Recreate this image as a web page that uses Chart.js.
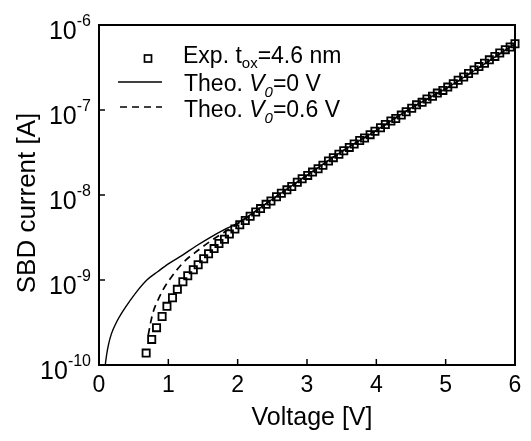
<!DOCTYPE html>
<html>
<head>
<meta charset="utf-8">
<script src="https://cdn.jsdelivr.net/npm/chart.js@4"></script>
<style>
  html, body { margin: 0; padding: 0; background: #fff; }
  canvas { display: block; }
</style>
</head>
<body>
<canvas id="chart" width="531" height="441"></canvas>
<script>
// measured SBD current, t_ox = 4.6 nm
const expVoltage = [
  0.68, 0.76, 0.83, 0.91, 0.98, 1.06, 1.13, 1.21, 1.28, 1.36, 1.43, 1.51,
  1.58, 1.66, 1.73, 1.81, 1.88, 1.96, 2.03, 2.11, 2.18, 2.26, 2.33, 2.41,
  2.48, 2.56, 2.63, 2.71, 2.78, 2.86, 2.93, 3.01, 3.08, 3.16, 3.23, 3.31,
  3.38, 3.46, 3.53, 3.61, 3.68, 3.76, 3.83, 3.91, 3.98, 4.06, 4.13, 4.21,
  4.28, 4.36, 4.43, 4.51, 4.58, 4.66, 4.73, 4.81, 4.88, 4.96, 5.03, 5.11,
  5.18, 5.26, 5.33, 5.41, 5.48, 5.56, 5.63, 5.71, 5.78, 5.86, 5.93, 6.00
];
const expCurrent = [
  1.38e-10, 2.0e-10, 2.75e-10, 3.72e-10, 4.9e-10, 6.17e-10, 7.76e-10, 9.55e-10, 1.12e-9, 1.32e-9, 1.51e-9, 1.78e-9,
  2.04e-9, 2.34e-9, 2.69e-9, 3.02e-9, 3.47e-9, 3.98e-9, 4.47e-9, 5.01e-9, 5.62e-9, 6.31e-9, 6.92e-9, 7.76e-9,
  8.51e-9, 9.55e-9, 1.05e-8, 1.15e-8, 1.26e-8, 1.41e-8, 1.55e-8, 1.70e-8, 1.86e-8, 2.04e-8, 2.24e-8, 2.51e-8,
  2.75e-8, 3.02e-8, 3.31e-8, 3.63e-8, 3.98e-8, 4.37e-8, 4.68e-8, 5.13e-8, 5.62e-8, 6.17e-8, 6.76e-8, 7.41e-8,
  7.94e-8, 8.71e-8, 9.55e-8, 1.05e-7, 1.15e-7, 1.23e-7, 1.35e-7, 1.45e-7, 1.58e-7, 1.70e-7, 1.86e-7, 2.04e-7,
  2.24e-7, 2.45e-7, 2.69e-7, 2.95e-7, 3.24e-7, 3.55e-7, 3.89e-7, 4.27e-7, 4.68e-7, 5.13e-7, 5.5e-7, 6.03e-7
];

// theory, V0 = 0 V
const theo0Voltage = [0.09, 0.11, 0.14, 0.18, 0.25, 0.35, 0.45, 0.55, 0.69, 0.85, 1.0, 1.2, 1.4, 1.6, 1.8, 2.0, 2.5, 3.0, 3.5, 4.0, 4.5, 5.0, 5.5, 6.0];
const theo0Current = [1.0e-10, 1.32e-10, 1.78e-10, 2.34e-10, 3.16e-10, 4.37e-10, 5.75e-10, 7.41e-10, 1.0e-9, 1.26e-9, 1.55e-9, 1.95e-9, 2.51e-9, 3.16e-9, 3.89e-9, 4.68e-9, 8.91e-9, 1.70e-8, 3.24e-8, 5.75e-8, 1.05e-7, 1.78e-7, 3.24e-7, 6.03e-7];

// theory, V0 = 0.6 V
const theo06Voltage = [0.71, 0.74, 0.78, 0.86, 0.92, 1.05, 1.22, 1.43, 1.63, 1.8, 2.0, 2.5, 3.0, 3.5, 4.0, 4.5, 5.0, 5.5, 6.0];
const theo06Current = [2.24e-10, 3.02e-10, 4.17e-10, 6.03e-10, 7.59e-10, 1.10e-9, 1.62e-9, 2.24e-9, 2.95e-9, 3.63e-9, 4.57e-9, 8.91e-9, 1.70e-8, 3.24e-8, 5.75e-8, 1.05e-7, 1.78e-7, 3.24e-7, 6.03e-7];

const xTicks = [0, 1, 2, 3, 4, 5, 6];
const yTicks = [1e-10, 1e-9, 1e-8, 1e-7, 1e-6];
const yTickExps = ['-10', '-9', '-8', '-7', '-6'];

const FONT = "'Liberation Sans', Arial, sans-serif";

function pts(xs, ys) {
  return xs.map((v, i) => ({ x: v, y: ys[i] }));
}

// draw a run of text pieces (for sub/superscripts), returns end x
function drawRuns(ctx, x, y, runs) {
  runs.forEach((r) => {
    ctx.font = r.font;
    ctx.fillText(r.text, x, y + (r.dy || 0));
    x += ctx.measureText(r.text).width;
  });
  return x;
}

const decorPlugin = {
  id: 'decor',
  beforeDraw(chart) {
    const ctx = chart.ctx;
    ctx.save();
    ctx.fillStyle = '#fff';
    ctx.fillRect(0, 0, chart.width, chart.height);
    ctx.restore();
  },
  afterDraw(chart) {
    const { ctx, chartArea: a, scales } = chart;
    const x = scales.x, y = scales.y;
    ctx.save();
    ctx.strokeStyle = '#000';
    ctx.fillStyle = '#000';

    // frame
    ctx.lineWidth = 2;
    ctx.strokeRect(a.left, a.top, a.right - a.left, a.bottom - a.top);

    // x ticks + labels
    ctx.lineWidth = 1.5;
    ctx.textAlign = 'center';
    ctx.textBaseline = 'alphabetic';
    ctx.font = `23px ${FONT}`;
    xTicks.forEach((v) => {
      const px = x.getPixelForValue(v);
      ctx.beginPath();
      ctx.moveTo(px, a.bottom);
      ctx.lineTo(px, a.bottom - 6);
      ctx.stroke();
      ctx.fillText(String(v), px, a.bottom + 27);
    });

    // y ticks + labels (10 with superscript exponent)
    ctx.textAlign = 'left';
    yTicks.forEach((v, i) => {
      const py = y.getPixelForValue(v);
      ctx.beginPath();
      ctx.moveTo(a.left, py);
      ctx.lineTo(a.left + 6, py);
      ctx.stroke();
      ctx.font = `16px ${FONT}`;
      const ew = ctx.measureText(yTickExps[i]).width;
      ctx.font = `25px ${FONT}`;
      const bw = ctx.measureText('10').width;
      const right = a.left - 8;
      ctx.fillText('10', right - ew - bw, py + 14);
      ctx.font = `16px ${FONT}`;
      ctx.fillText(yTickExps[i], right - ew, py + 1);
    });

    // axis titles
    ctx.textAlign = 'center';
    ctx.font = `25px ${FONT}`;
    ctx.fillText('Voltage [V]', (a.left + a.right) / 2 + 5, 425);
    ctx.save();
    ctx.translate(35, 203);
    ctx.rotate(-Math.PI / 2);
    ctx.font = `26px ${FONT}`;
    ctx.fillText('SBD current [A]', 0, 0);
    ctx.restore();

    // legend
    ctx.textAlign = 'left';
    ctx.lineWidth = 1.7;
    ctx.strokeRect(144.5, 55, 7, 7);
    ctx.lineWidth = 1.4;
    ctx.beginPath();
    ctx.moveTo(118, 82);
    ctx.lineTo(162, 82);
    ctx.stroke();
    ctx.lineWidth = 1.7;
    ctx.setLineDash([7, 5]);
    ctx.beginPath();
    ctx.moveTo(120, 107);
    ctx.lineTo(162, 107);
    ctx.stroke();
    ctx.setLineDash([]);

    const big = `23px ${FONT}`, sub = `15px ${FONT}`;
    const ital = `italic 23px ${FONT}`, subIt = `italic 15px ${FONT}`;
    drawRuns(ctx, 183, 63, [
      { text: 'Exp. t', font: big },
      { text: 'ox', font: sub, dy: 5 },
      { text: '=4.6 nm', font: big }
    ]);
    drawRuns(ctx, 184, 91, [
      { text: 'Theo. ', font: big },
      { text: 'V', font: ital },
      { text: '0', font: subIt, dy: 6 },
      { text: '=0 V', font: big }
    ]);
    drawRuns(ctx, 184, 117, [
      { text: 'Theo. ', font: big },
      { text: 'V', font: ital },
      { text: '0', font: subIt, dy: 6 },
      { text: '=0.6 V', font: big }
    ]);
    ctx.restore();
  }
};

new Chart(document.getElementById('chart'), {
  type: 'scatter',
  data: {
    datasets: [
      {
        label: 'Exp. tox=4.6 nm',
        data: pts(expVoltage, expCurrent),
        pointStyle: 'rect',
        pointRadius: 5.1,
        pointBorderWidth: 1.8,
        pointBorderColor: '#000',
        pointBackgroundColor: 'rgba(0,0,0,0)',
        showLine: false,
        clip: 10,
        order: 0
      },
      {
        label: 'Theo. V0=0 V',
        data: pts(theo0Voltage, theo0Current),
        showLine: true,
        pointRadius: 0,
        borderColor: '#000',
        borderWidth: 1.4,
        cubicInterpolationMode: 'monotone',
        clip: 2,
        order: 1
      },
      {
        label: 'Theo. V0=0.6 V',
        data: pts(theo06Voltage, theo06Current),
        showLine: true,
        pointRadius: 0,
        borderColor: '#000',
        borderWidth: 1.7,
        borderDash: [7, 5],
        cubicInterpolationMode: 'monotone',
        clip: 2,
        order: 2
      }
    ]
  },
  options: {
    responsive: false,
    animation: false,
    events: [],
    layout: { autoPadding: false, padding: { left: 99, top: 25, right: 16, bottom: 76 } },
    plugins: { legend: { display: false }, tooltip: { enabled: false } },
    scales: {
      x: { type: 'linear', min: 0, max: 6, display: false },
      y: { type: 'logarithmic', min: 1e-10, max: 1e-6, display: false }
    }
  },
  plugins: [decorPlugin]
});
</script>
</body>
</html>
